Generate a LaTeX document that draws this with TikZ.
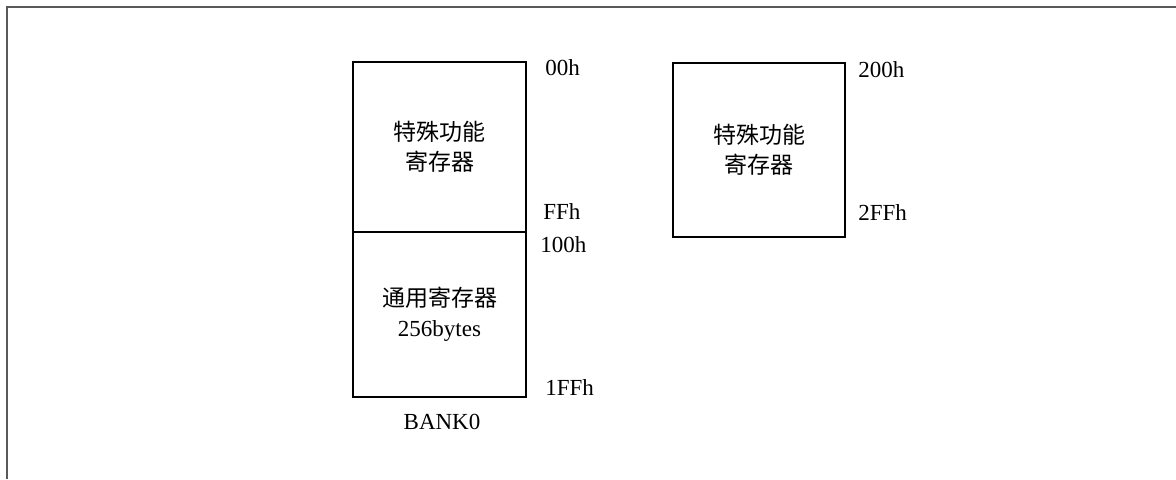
\documentclass[tikz,border=0pt]{standalone}
\usepackage{fontspec}
\setmainfont{Liberation Serif}
\newfontfamily\cjk{Noto Sans CJK SC}
\usepackage{tikz}

\tikzset{
  membox/.style={draw=black,line width=1.2pt,fill=white,minimum width=86.5pt,inner sep=0pt,align=center,font=\fontsize{11.5}{15}\selectfont\cjk},
  addr/.style={anchor=west,inner sep=0pt,font=\fontsize{11.5}{14}\selectfont}
}

\begin{document}
\begin{tikzpicture}[x=0.5pt,y=-0.5pt]
\useasboundingbox (0,0) rectangle (1176,479);
\draw[gray!70!black,line width=1pt](7,479)--(7,7)--(1176,7);
\node[membox,minimum height=85pt] (sfr0) at (439.5,147) {特殊功能\\寄存器};
\node[membox,minimum height=82.5pt] (gpr) at (439.5,314.5) {通用寄存器\\{\fontspec{Liberation Serif}256bytes}};
\node[membox,minimum width=86pt,minimum height=87pt] (sfr2) at (759,150) {特殊功能\\寄存器};
\node[addr] (a00) at (545,68) {00h};
\node[addr] (aff) at (543,212) {FFh};
\node[addr] (a100) at (540,245) {100h};
\node[addr] (a1ff) at (545,388) {1FFh};
\node[addr] (a200) at (858,70) {200h};
\node[addr] (a2ff) at (858,213) {2FFh};
\node[addr,anchor=center] (bank) at (442,422) {BANK0};
\end{tikzpicture}
\end{document}
